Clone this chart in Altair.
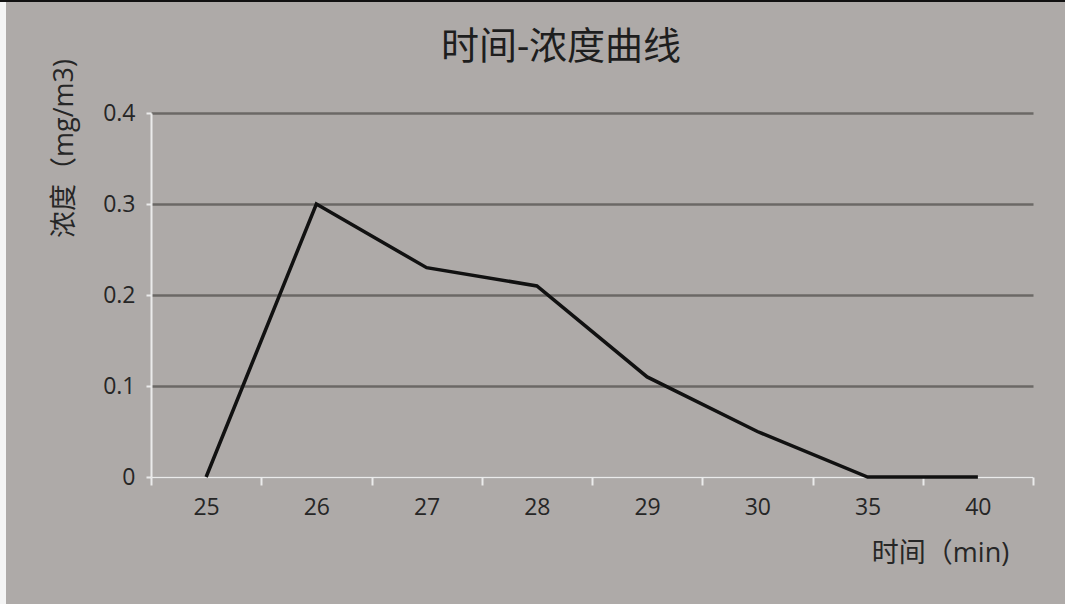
import altair as alt
import pandas as pd

# Sampling times (min) and measured concentration (mg/m3)
times = ["25", "26", "27", "28", "29", "30", "35", "40"]
concentration = [0.0, 0.30, 0.23, 0.21, 0.11, 0.05, 0.0, 0.0]
y_ticks = [0, 0.1, 0.2, 0.3, 0.4]

df = pd.DataFrame({"time": times, "conc": concentration})

BG = "#aeaaa8"
GRID = "#6b6866"
AXIS = "#ebebeb"
TEXT = "#262626"
FONT = "Open Sans, Noto Sans CJK SC"

x_enc = alt.X(
    "time:O",
    sort=times,
    scale=alt.Scale(type="band", paddingInner=0, paddingOuter=0),
    axis=alt.Axis(
        title="时间（min)",
        titleX=789,
        titleY=76,
        titleAlign="center",
        titleBaseline="middle",
        titleFontSize=27,
        titleFontWeight="normal",
        titleColor=TEXT,
        titleFont=FONT,
        labelAngle=0,
        labelFontSize=23,
        labelColor=TEXT,
        labelFont=FONT,
        labelPadding=11,
        tickBand="extent",
        tickSize=8,
        tickColor=AXIS,
        tickWidth=2,
        domainColor=AXIS,
        domainWidth=2,
        grid=False,
    ),
)

y_enc = alt.Y(
    "conc:Q",
    scale=alt.Scale(domain=[0, 0.4], nice=False),
    axis=alt.Axis(
        title="浓度（mg/m3)",
        titleX=-87,
        titleY=35,
        titleAlign="center",
        titleBaseline="middle",
        titleFontSize=27,
        titleFontWeight="normal",
        titleColor=TEXT,
        titleFont=FONT,
        values=y_ticks,
        format="~g",
        labelFontSize=23,
        labelColor=TEXT,
        labelFont=FONT,
        labelPadding=11,
        tickSize=5,
        tickColor=AXIS,
        tickWidth=2,
        domainColor=AXIS,
        domainWidth=2,
        gridColor=GRID,
        gridWidth=2.5,
    ),
)

line = alt.Chart(df).mark_line(color="#111111", strokeWidth=3.5, strokeJoin="miter").encode(
    x=x_enc, y=y_enc
)

# thin frame pieces around the chart: black top edge, white strip on the left
top_edge = alt.Chart(df).mark_rule(color="#111111", strokeWidth=2).encode(
    x=alt.value(-151), x2=alt.value(914), y=alt.value(-112)
)
left_strip = alt.Chart(df).mark_rect(color="#f4f4f4").encode(
    x=alt.value(-151), x2=alt.value(-145), y=alt.value(-111), y2=alt.value(491)
)

chart = (
    alt.layer(line, top_edge, left_strip)
    .properties(
        width=882,
        height=364,
        title=alt.TitleParams(
            "时间-浓度曲线",
            fontSize=38,
            fontWeight="normal",
            font=FONT,
            color="#1e1e1e",
            anchor="middle",
            dx=-31,
            dy=71,
        ),
        background=BG,
        padding={"left": 151, "top": 113, "right": 32, "bottom": 127},
        autosize=alt.AutoSizeParams(type="none"),
    )
    .configure_view(stroke=None, fill=BG)
)

chart.save("out.html", embed_options={"renderer": "svg", "actions": False})
